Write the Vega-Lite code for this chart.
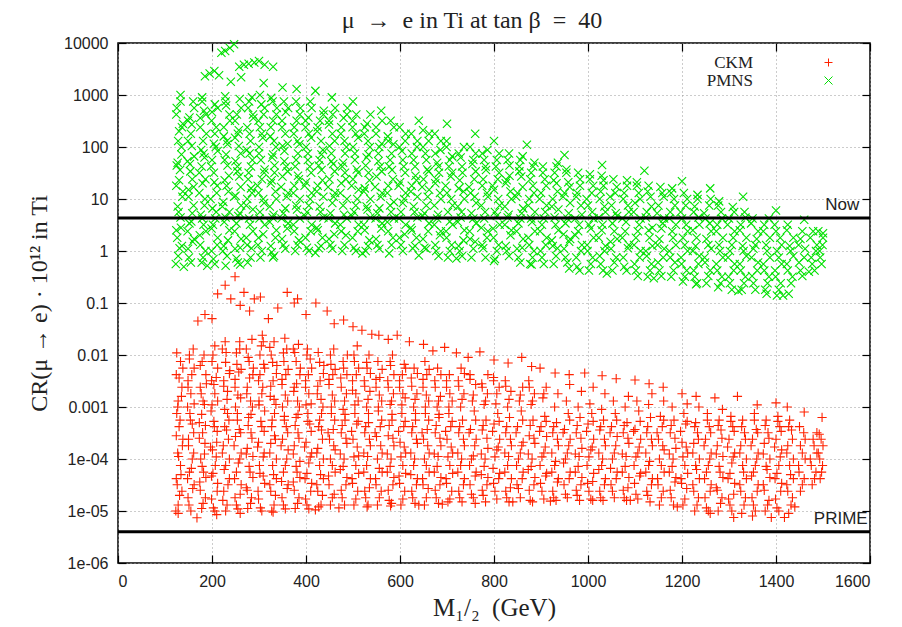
{
"$schema": "https://vega.github.io/schema/vega-lite/v6.json",
"width": 752, "height": 520,
"autosize": {"type": "none"},
"padding": {"left": 118, "top": 43, "right": 32, "bottom": 64},
"background": "white",
"title": {"text": "μ\u2002→\u2002e in Ti at tan β\u2002=\u200240", "font": "Liberation Serif", "fontSize": 24, "fontWeight": "normal", "color": "#222", "offset": 2, "dx": -22},
"datasets": {
"pmns": [
{"x":123,"PMNS":0.56},{"x":131,"PMNS":1.13},{"x":126,"PMNS":1.8},{"x":134,"PMNS":2.8},{"x":129,"PMNS":5.6},{"x":137,"PMNS":11},{"x":124,"PMNS":18},{"x":132,"PMNS":36},{"x":127,"PMNS":50},{"x":135,"PMNS":100},{"x":130,"PMNS":200},{"x":138,"PMNS":280},{"x":125,"PMNS":560},{"x":133,"PMNS":1000},
{"x":151,"PMNS":0.75},{"x":159,"PMNS":1.5},{"x":148,"PMNS":2.4},{"x":156,"PMNS":3.7},{"x":161,"PMNS":7.5},{"x":150,"PMNS":15},{"x":158,"PMNS":24},{"x":153,"PMNS":47},{"x":162,"PMNS":66},{"x":149,"PMNS":130},{"x":157,"PMNS":270},{"x":152,"PMNS":370},{"x":160,"PMNS":750},
{"x":178,"PMNS":0.6},{"x":186,"PMNS":1},{"x":174,"PMNS":2},{"x":182,"PMNS":3.2},{"x":176,"PMNS":5},{"x":185,"PMNS":10},{"x":180,"PMNS":20},{"x":173,"PMNS":32},{"x":184,"PMNS":63},{"x":177,"PMNS":88},{"x":188,"PMNS":180},{"x":175,"PMNS":360},{"x":183,"PMNS":500},{"x":179,"PMNS":900},
{"x":203,"PMNS":0.7},{"x":211,"PMNS":1.3},{"x":199,"PMNS":2.7},{"x":207,"PMNS":4.2},{"x":201,"PMNS":6.6},{"x":210,"PMNS":13},{"x":205,"PMNS":21},{"x":198,"PMNS":42},{"x":212,"PMNS":84},{"x":204,"PMNS":115},{"x":209,"PMNS":240},{"x":200,"PMNS":470},{"x":206,"PMNS":660},
{"x":229,"PMNS":0.52},{"x":223,"PMNS":1},{"x":234,"PMNS":1.6},{"x":226,"PMNS":3.6},{"x":237,"PMNS":5.6},{"x":224,"PMNS":8.8},{"x":231,"PMNS":18},{"x":236,"PMNS":28},{"x":227,"PMNS":56},{"x":233,"PMNS":113},{"x":225,"PMNS":160},{"x":238,"PMNS":320},{"x":230,"PMNS":630},{"x":228,"PMNS":950},
{"x":252,"PMNS":0.72},{"x":260,"PMNS":1.15},{"x":248,"PMNS":2.4},{"x":256,"PMNS":4.7},{"x":262,"PMNS":7.5},{"x":250,"PMNS":11.5},{"x":258,"PMNS":27},{"x":254,"PMNS":42},{"x":261,"PMNS":75},{"x":249,"PMNS":150},{"x":257,"PMNS":210},{"x":253,"PMNS":420},{"x":259,"PMNS":840},
{"x":276,"PMNS":0.6},{"x":284,"PMNS":1.13},{"x":273,"PMNS":1.8},{"x":281,"PMNS":3.2},{"x":287,"PMNS":6.3},{"x":275,"PMNS":10},{"x":283,"PMNS":16},{"x":278,"PMNS":32},{"x":286,"PMNS":56},{"x":274,"PMNS":88},{"x":280,"PMNS":180},{"x":288,"PMNS":360},{"x":277,"PMNS":560},{"x":285,"PMNS":900},
{"x":303,"PMNS":0.75},{"x":298,"PMNS":1.3},{"x":309,"PMNS":2.1},{"x":301,"PMNS":4.2},{"x":311,"PMNS":8.4},{"x":299,"PMNS":13},{"x":306,"PMNS":24},{"x":312,"PMNS":37},{"x":300,"PMNS":75},{"x":308,"PMNS":150},{"x":302,"PMNS":240},{"x":310,"PMNS":420},{"x":305,"PMNS":660},
{"x":327,"PMNS":0.95},{"x":335,"PMNS":1.8},{"x":323,"PMNS":3.6},{"x":331,"PMNS":5},{"x":337,"PMNS":10},{"x":325,"PMNS":20},{"x":333,"PMNS":32},{"x":328,"PMNS":63},{"x":336,"PMNS":100},{"x":324,"PMNS":160},{"x":330,"PMNS":320},{"x":338,"PMNS":560},{"x":326,"PMNS":880},
{"x":352,"PMNS":1.3},{"x":360,"PMNS":2.7},{"x":348,"PMNS":4.2},{"x":356,"PMNS":6.6},{"x":362,"PMNS":13},{"x":350,"PMNS":27},{"x":358,"PMNS":42},{"x":354,"PMNS":84},{"x":361,"PMNS":115},{"x":349,"PMNS":240},{"x":357,"PMNS":470},{"x":353,"PMNS":750},
{"x":377,"PMNS":1},{"x":385,"PMNS":1.6},{"x":373,"PMNS":3.2},{"x":381,"PMNS":6.3},{"x":387,"PMNS":10},{"x":375,"PMNS":18},{"x":383,"PMNS":28},{"x":379,"PMNS":56},{"x":386,"PMNS":113},{"x":374,"PMNS":180},{"x":380,"PMNS":320},{"x":388,"PMNS":560},
{"x":402,"PMNS":1.15},{"x":410,"PMNS":2.4},{"x":398,"PMNS":4.7},{"x":406,"PMNS":7.5},{"x":412,"PMNS":13},{"x":400,"PMNS":21},{"x":408,"PMNS":42},{"x":404,"PMNS":75},{"x":411,"PMNS":150},{"x":399,"PMNS":240},{"x":405,"PMNS":370},{"x":409,"PMNS":750},
{"x":427,"PMNS":1.13},{"x":435,"PMNS":1.8},{"x":423,"PMNS":2.8},{"x":431,"PMNS":5.6},{"x":437,"PMNS":11},{"x":425,"PMNS":18},{"x":433,"PMNS":36},{"x":429,"PMNS":56},{"x":436,"PMNS":88},{"x":424,"PMNS":200},{"x":430,"PMNS":320},{"x":438,"PMNS":500},
{"x":452,"PMNS":1.3},{"x":460,"PMNS":2.1},{"x":448,"PMNS":4.2},{"x":456,"PMNS":8.4},{"x":462,"PMNS":13},{"x":450,"PMNS":24},{"x":458,"PMNS":47},{"x":454,"PMNS":75},{"x":461,"PMNS":130},{"x":449,"PMNS":270},{"x":457,"PMNS":420},
{"x":477,"PMNS":1},{"x":485,"PMNS":2},{"x":473,"PMNS":3.2},{"x":481,"PMNS":5},{"x":487,"PMNS":10},{"x":475,"PMNS":20},{"x":483,"PMNS":32},{"x":479,"PMNS":50},{"x":486,"PMNS":100},{"x":474,"PMNS":180},{"x":480,"PMNS":360},{"x":488,"PMNS":560},
{"x":502,"PMNS":1.15},{"x":510,"PMNS":2.4},{"x":498,"PMNS":4.7},{"x":506,"PMNS":7.5},{"x":512,"PMNS":15},{"x":500,"PMNS":24},{"x":508,"PMNS":37},{"x":504,"PMNS":75},{"x":511,"PMNS":150},{"x":499,"PMNS":240},{"x":507,"PMNS":420},
{"x":527,"PMNS":1},{"x":535,"PMNS":1.6},{"x":523,"PMNS":3.2},{"x":531,"PMNS":6.3},{"x":537,"PMNS":10},{"x":525,"PMNS":16},{"x":533,"PMNS":32},{"x":529,"PMNS":63},{"x":536,"PMNS":100},{"x":524,"PMNS":180},{"x":530,"PMNS":280},
{"x":552,"PMNS":1.3},{"x":560,"PMNS":2.7},{"x":548,"PMNS":4.2},{"x":556,"PMNS":6.6},{"x":562,"PMNS":13},{"x":550,"PMNS":27},{"x":558,"PMNS":42},{"x":554,"PMNS":75},{"x":561,"PMNS":115},{"x":549,"PMNS":240},
{"x":577,"PMNS":0.9},{"x":585,"PMNS":1.8},{"x":573,"PMNS":3.6},{"x":581,"PMNS":5.6},{"x":587,"PMNS":8.8},{"x":575,"PMNS":18},{"x":583,"PMNS":36},{"x":579,"PMNS":56},{"x":586,"PMNS":113},{"x":574,"PMNS":160},{"x":580,"PMNS":320},
{"x":602,"PMNS":1.3},{"x":610,"PMNS":2.1},{"x":598,"PMNS":4.2},{"x":606,"PMNS":8.4},{"x":612,"PMNS":13},{"x":600,"PMNS":21},{"x":608,"PMNS":42},{"x":604,"PMNS":84},{"x":611,"PMNS":130},{"x":599,"PMNS":240},
{"x":627,"PMNS":1.13},{"x":635,"PMNS":1.8},{"x":623,"PMNS":2.8},{"x":631,"PMNS":5.6},{"x":637,"PMNS":11},{"x":625,"PMNS":18},{"x":633,"PMNS":28},{"x":629,"PMNS":56},{"x":636,"PMNS":100},{"x":624,"PMNS":180},
{"x":652,"PMNS":1.15},{"x":660,"PMNS":2.4},{"x":648,"PMNS":4.7},{"x":656,"PMNS":7.5},{"x":662,"PMNS":15},{"x":650,"PMNS":24},{"x":658,"PMNS":37},{"x":654,"PMNS":75},{"x":661,"PMNS":130},{"x":649,"PMNS":210},
{"x":677,"PMNS":1},{"x":685,"PMNS":2},{"x":673,"PMNS":3.2},{"x":681,"PMNS":5},{"x":687,"PMNS":10},{"x":675,"PMNS":20},{"x":683,"PMNS":32},{"x":679,"PMNS":50},{"x":686,"PMNS":88},{"x":674,"PMNS":180},
{"x":702,"PMNS":0.75},{"x":710,"PMNS":1.3},{"x":698,"PMNS":2.4},{"x":706,"PMNS":3.7},{"x":712,"PMNS":7.5},{"x":700,"PMNS":13},{"x":708,"PMNS":27},{"x":704,"PMNS":42},{"x":711,"PMNS":66},{"x":699,"PMNS":130},
{"x":727,"PMNS":1},{"x":735,"PMNS":1.6},{"x":723,"PMNS":3.6},{"x":731,"PMNS":5.6},{"x":737,"PMNS":10},{"x":725,"PMNS":16},{"x":733,"PMNS":32},{"x":729,"PMNS":63},{"x":736,"PMNS":100},
{"x":752,"PMNS":0.75},{"x":760,"PMNS":1.5},{"x":748,"PMNS":2.4},{"x":756,"PMNS":4.2},{"x":762,"PMNS":8.4},{"x":750,"PMNS":13},{"x":758,"PMNS":24},{"x":754,"PMNS":47},{"x":761,"PMNS":75},
{"x":777,"PMNS":1.13},{"x":785,"PMNS":1.8},{"x":773,"PMNS":2.8},{"x":781,"PMNS":5.6},{"x":787,"PMNS":11},{"x":775,"PMNS":18},{"x":783,"PMNS":36},{"x":779,"PMNS":56},{"x":786,"PMNS":88},
{"x":802,"PMNS":0.7},{"x":810,"PMNS":1.3},{"x":798,"PMNS":2.7},{"x":806,"PMNS":4.7},{"x":812,"PMNS":7.5},{"x":800,"PMNS":15},{"x":808,"PMNS":24},{"x":804,"PMNS":42},{"x":811,"PMNS":75},
{"x":827,"PMNS":1},{"x":835,"PMNS":2},{"x":823,"PMNS":3.2},{"x":831,"PMNS":5},{"x":837,"PMNS":10},{"x":825,"PMNS":20},{"x":833,"PMNS":28},{"x":829,"PMNS":56},
{"x":852,"PMNS":0.75},{"x":860,"PMNS":1.15},{"x":848,"PMNS":2.4},{"x":856,"PMNS":4.2},{"x":862,"PMNS":6.6},{"x":850,"PMNS":13},{"x":858,"PMNS":27},{"x":854,"PMNS":42},{"x":861,"PMNS":66},
{"x":877,"PMNS":0.56},{"x":885,"PMNS":1},{"x":873,"PMNS":1.8},{"x":881,"PMNS":3.6},{"x":887,"PMNS":5.6},{"x":875,"PMNS":10},{"x":883,"PMNS":18},{"x":879,"PMNS":32},{"x":886,"PMNS":50},
{"x":902,"PMNS":0.75},{"x":910,"PMNS":1.3},{"x":898,"PMNS":2.4},{"x":906,"PMNS":4.2},{"x":912,"PMNS":7.5},{"x":900,"PMNS":13},{"x":908,"PMNS":24},{"x":904,"PMNS":42},
{"x":927,"PMNS":0.56},{"x":935,"PMNS":1.13},{"x":923,"PMNS":1.6},{"x":931,"PMNS":3.2},{"x":937,"PMNS":6.3},{"x":925,"PMNS":10},{"x":933,"PMNS":20},{"x":929,"PMNS":32},{"x":936,"PMNS":50},
{"x":952,"PMNS":0.75},{"x":960,"PMNS":1.5},{"x":948,"PMNS":2.1},{"x":956,"PMNS":4.2},{"x":962,"PMNS":8.4},{"x":950,"PMNS":13},{"x":958,"PMNS":21},{"x":954,"PMNS":37},
{"x":977,"PMNS":0.5},{"x":985,"PMNS":1},{"x":973,"PMNS":2},{"x":981,"PMNS":3.2},{"x":987,"PMNS":5},{"x":975,"PMNS":11},{"x":983,"PMNS":18},{"x":979,"PMNS":32},
{"x":1002,"PMNS":0.42},{"x":1010,"PMNS":0.75},{"x":998,"PMNS":1.3},{"x":1006,"PMNS":2.7},{"x":1012,"PMNS":4.2},{"x":1000,"PMNS":7.5},{"x":1008,"PMNS":13},{"x":1004,"PMNS":24},
{"x":1027,"PMNS":0.56},{"x":1035,"PMNS":1},{"x":1023,"PMNS":1.8},{"x":1031,"PMNS":3.2},{"x":1037,"PMNS":5.6},{"x":1025,"PMNS":10},{"x":1033,"PMNS":18},{"x":1029,"PMNS":28},
{"x":1052,"PMNS":0.42},{"x":1060,"PMNS":0.75},{"x":1048,"PMNS":1.5},{"x":1056,"PMNS":2.4},{"x":1062,"PMNS":4.7},{"x":1050,"PMNS":7.5},{"x":1058,"PMNS":13},{"x":1054,"PMNS":24},
{"x":1077,"PMNS":0.5},{"x":1085,"PMNS":1.13},{"x":1073,"PMNS":1.8},{"x":1081,"PMNS":3.6},{"x":1087,"PMNS":5.6},{"x":1075,"PMNS":10},{"x":1083,"PMNS":18},
{"x":1102,"PMNS":0.42},{"x":1110,"PMNS":0.75},{"x":1098,"PMNS":1.3},{"x":1106,"PMNS":2.4},{"x":1112,"PMNS":4.2},{"x":1100,"PMNS":8.4},{"x":1108,"PMNS":13},{"x":1104,"PMNS":21},
{"x":1127,"PMNS":0.32},{"x":1135,"PMNS":0.56},{"x":1123,"PMNS":1},{"x":1131,"PMNS":1.8},{"x":1137,"PMNS":2.8},{"x":1125,"PMNS":5.6},{"x":1133,"PMNS":11},{"x":1129,"PMNS":18},
{"x":1152,"PMNS":0.42},{"x":1160,"PMNS":0.75},{"x":1148,"PMNS":1.3},{"x":1156,"PMNS":2.7},{"x":1162,"PMNS":4.2},{"x":1150,"PMNS":7.5},{"x":1158,"PMNS":13},
{"x":1177,"PMNS":0.32},{"x":1185,"PMNS":0.6},{"x":1173,"PMNS":1},{"x":1181,"PMNS":1.8},{"x":1187,"PMNS":3.2},{"x":1175,"PMNS":5.6},{"x":1183,"PMNS":10},{"x":1179,"PMNS":16},
{"x":1202,"PMNS":0.26},{"x":1210,"PMNS":0.42},{"x":1198,"PMNS":0.75},{"x":1206,"PMNS":1.3},{"x":1212,"PMNS":2.4},{"x":1200,"PMNS":4.2},{"x":1208,"PMNS":7.5},{"x":1204,"PMNS":13},
{"x":1227,"PMNS":0.32},{"x":1235,"PMNS":0.56},{"x":1223,"PMNS":1},{"x":1231,"PMNS":1.8},{"x":1237,"PMNS":3.2},{"x":1225,"PMNS":5.6},{"x":1233,"PMNS":10},
{"x":1252,"PMNS":0.24},{"x":1260,"PMNS":0.42},{"x":1248,"PMNS":0.75},{"x":1256,"PMNS":1.3},{"x":1262,"PMNS":2.4},{"x":1250,"PMNS":4.2},{"x":1258,"PMNS":7.5},
{"x":1277,"PMNS":0.2},{"x":1285,"PMNS":0.32},{"x":1273,"PMNS":0.56},{"x":1281,"PMNS":1},{"x":1287,"PMNS":1.8},{"x":1275,"PMNS":3.2},{"x":1283,"PMNS":5.6},{"x":1279,"PMNS":9},
{"x":1302,"PMNS":0.24},{"x":1310,"PMNS":0.42},{"x":1298,"PMNS":0.75},{"x":1306,"PMNS":1.3},{"x":1312,"PMNS":2.4},{"x":1300,"PMNS":4.2},{"x":1308,"PMNS":7},
{"x":1327,"PMNS":0.18},{"x":1335,"PMNS":0.32},{"x":1323,"PMNS":0.56},{"x":1331,"PMNS":1},{"x":1337,"PMNS":1.8},{"x":1325,"PMNS":3.2},{"x":1333,"PMNS":5.6},
{"x":1352,"PMNS":0.24},{"x":1360,"PMNS":0.42},{"x":1348,"PMNS":0.75},{"x":1356,"PMNS":1.3},{"x":1362,"PMNS":2.4},{"x":1350,"PMNS":4.2},
{"x":1377,"PMNS":0.18},{"x":1385,"PMNS":0.32},{"x":1373,"PMNS":0.56},{"x":1381,"PMNS":1},{"x":1387,"PMNS":1.8},{"x":1375,"PMNS":3.2},
{"x":1402,"PMNS":0.14},{"x":1410,"PMNS":0.24},{"x":1398,"PMNS":0.42},{"x":1406,"PMNS":0.75},{"x":1412,"PMNS":1.3},{"x":1400,"PMNS":2.4},
{"x":1427,"PMNS":0.15},{"x":1435,"PMNS":0.32},{"x":1423,"PMNS":0.56},{"x":1431,"PMNS":1},{"x":1437,"PMNS":1.8},{"x":1425,"PMNS":3.2},
{"x":1452,"PMNS":0.42},{"x":1460,"PMNS":0.75},{"x":1448,"PMNS":1.3},{"x":1456,"PMNS":2.4},
{"x":1477,"PMNS":0.56},{"x":1485,"PMNS":1},{"x":1473,"PMNS":1.8},
{"x":1494,"PMNS":0.75},{"x":1499,"PMNS":1.3},{"x":1490,"PMNS":2.4},
{"x":185,"PMNS":2300},{"x":195,"PMNS":2600},{"x":205,"PMNS":2900},{"x":215,"PMNS":2400},{"x":228,"PMNS":7000},{"x":238,"PMNS":8000},{"x":247,"PMNS":9500},{"x":220,"PMNS":6500},{"x":258,"PMNS":3500},{"x":268,"PMNS":3800},{"x":278,"PMNS":4000},{"x":290,"PMNS":4200},{"x":300,"PMNS":4500},{"x":312,"PMNS":3800},{"x":330,"PMNS":3500},{"x":262,"PMNS":2200},{"x":240,"PMNS":1800},{"x":310,"PMNS":1700},{"x":350,"PMNS":1400},{"x":380,"PMNS":1300},{"x":420,"PMNS":1200},{"x":455,"PMNS":900},{"x":500,"PMNS":750},{"x":560,"PMNS":500},{"x":640,"PMNS":320},{"x":700,"PMNS":280},{"x":760,"PMNS":180},{"x":800,"PMNS":130},{"x":870,"PMNS":110},{"x":950,"PMNS":70},{"x":1030,"PMNS":45},{"x":1120,"PMNS":35},{"x":1200,"PMNS":22},{"x":1260,"PMNS":16},{"x":1330,"PMNS":11},{"x":1400,"PMNS":6},{"x":1460,"PMNS":4},{"x":1500,"PMNS":2.2},
{"x":140,"PMNS":0.5},{"x":190,"PMNS":0.52},{"x":260,"PMNS":0.55},{"x":330,"PMNS":0.75},{"x":420,"PMNS":0.92},{"x":520,"PMNS":0.9},{"x":640,"PMNS":0.82},{"x":720,"PMNS":0.72},{"x":800,"PMNS":0.64},{"x":880,"PMNS":0.55},{"x":960,"PMNS":0.46},{"x":1040,"PMNS":0.37},{"x":1140,"PMNS":0.3},{"x":1230,"PMNS":0.23},{"x":1320,"PMNS":0.17},{"x":1380,"PMNS":0.15},{"x":1415,"PMNS":0.14},{"x":1470,"PMNS":0.4},
{"x":128,"PMNS":0.8},{"x":136,"PMNS":1.25},{"x":124,"PMNS":2.5},{"x":133,"PMNS":4.4},{"x":127,"PMNS":7.2},{"x":138,"PMNS":14},{"x":130,"PMNS":23},{"x":125,"PMNS":44},{"x":135,"PMNS":72},
{"x":155,"PMNS":0.6},{"x":149,"PMNS":1.1},{"x":162,"PMNS":1.7},{"x":152,"PMNS":3.4},{"x":158,"PMNS":5.3},{"x":150,"PMNS":11},{"x":161,"PMNS":17},{"x":154,"PMNS":34},{"x":148,"PMNS":53},{"x":157,"PMNS":105},
{"x":181,"PMNS":0.75},{"x":175,"PMNS":1.3},{"x":187,"PMNS":2.4},{"x":179,"PMNS":4.2},{"x":184,"PMNS":7.5},{"x":173,"PMNS":13},{"x":186,"PMNS":24},{"x":178,"PMNS":42},{"x":182,"PMNS":75},
{"x":206,"PMNS":0.56},{"x":199,"PMNS":1},{"x":212,"PMNS":1.8},{"x":202,"PMNS":3.2},{"x":209,"PMNS":5.6},{"x":197,"PMNS":10},{"x":211,"PMNS":18},{"x":204,"PMNS":32},{"x":200,"PMNS":56},{"x":208,"PMNS":100},
{"x":232,"PMNS":0.8},{"x":225,"PMNS":1.25},{"x":237,"PMNS":2.5},{"x":229,"PMNS":4.4},{"x":222,"PMNS":7.2},{"x":235,"PMNS":14},{"x":227,"PMNS":23},{"x":233,"PMNS":44},{"x":230,"PMNS":72},
{"x":255,"PMNS":0.6},{"x":249,"PMNS":1.1},{"x":262,"PMNS":1.7},{"x":252,"PMNS":3.4},{"x":259,"PMNS":5.3},{"x":247,"PMNS":11},{"x":261,"PMNS":17},{"x":254,"PMNS":34},{"x":250,"PMNS":53},{"x":257,"PMNS":105},
{"x":282,"PMNS":0.75},{"x":275,"PMNS":1.3},{"x":287,"PMNS":2.4},{"x":279,"PMNS":4.2},{"x":273,"PMNS":7.5},{"x":285,"PMNS":13},{"x":277,"PMNS":24},{"x":283,"PMNS":42},{"x":280,"PMNS":75},
{"x":306,"PMNS":1},{"x":299,"PMNS":1.8},{"x":312,"PMNS":3.2},{"x":302,"PMNS":5.6},{"x":309,"PMNS":10},{"x":297,"PMNS":18},{"x":311,"PMNS":32},{"x":304,"PMNS":56},{"x":300,"PMNS":100},
{"x":332,"PMNS":0.8},{"x":325,"PMNS":1.25},{"x":337,"PMNS":2.5},{"x":329,"PMNS":4.4},{"x":323,"PMNS":7.2},{"x":335,"PMNS":14},{"x":327,"PMNS":23},{"x":333,"PMNS":44},{"x":330,"PMNS":72},
{"x":356,"PMNS":1.1},{"x":349,"PMNS":1.7},{"x":362,"PMNS":3.4},{"x":352,"PMNS":5.3},{"x":359,"PMNS":11},{"x":347,"PMNS":17},{"x":361,"PMNS":34},{"x":354,"PMNS":53},{"x":350,"PMNS":105},
{"x":382,"PMNS":1.3},{"x":375,"PMNS":2.4},{"x":387,"PMNS":4.2},{"x":379,"PMNS":7.5},{"x":373,"PMNS":13},{"x":385,"PMNS":24},{"x":377,"PMNS":42},{"x":383,"PMNS":75},
{"x":406,"PMNS":1},{"x":399,"PMNS":1.8},{"x":412,"PMNS":3.2},{"x":402,"PMNS":5.6},{"x":409,"PMNS":10},{"x":397,"PMNS":18},{"x":411,"PMNS":32},{"x":404,"PMNS":56},{"x":400,"PMNS":100},
{"x":432,"PMNS":1.25},{"x":425,"PMNS":2.5},{"x":437,"PMNS":4.4},{"x":429,"PMNS":7.2},{"x":423,"PMNS":14},{"x":435,"PMNS":23},{"x":427,"PMNS":44},{"x":433,"PMNS":72},
{"x":456,"PMNS":1.1},{"x":449,"PMNS":1.7},{"x":462,"PMNS":3.4},{"x":452,"PMNS":5.3},{"x":459,"PMNS":11},{"x":447,"PMNS":17},{"x":461,"PMNS":34},{"x":454,"PMNS":53},{"x":450,"PMNS":105},
{"x":482,"PMNS":1.3},{"x":475,"PMNS":2.4},{"x":487,"PMNS":4.2},{"x":479,"PMNS":7.5},{"x":473,"PMNS":13},{"x":485,"PMNS":24},{"x":477,"PMNS":42},{"x":483,"PMNS":75},
{"x":506,"PMNS":1},{"x":499,"PMNS":1.8},{"x":512,"PMNS":3.2},{"x":502,"PMNS":5.6},{"x":509,"PMNS":10},{"x":497,"PMNS":18},{"x":511,"PMNS":32},{"x":504,"PMNS":56},{"x":500,"PMNS":100},
{"x":532,"PMNS":1.25},{"x":525,"PMNS":2.5},{"x":537,"PMNS":4.4},{"x":529,"PMNS":7.2},{"x":523,"PMNS":14},{"x":535,"PMNS":23},{"x":527,"PMNS":44},{"x":533,"PMNS":72},
{"x":556,"PMNS":1.1},{"x":549,"PMNS":1.7},{"x":562,"PMNS":3.4},{"x":552,"PMNS":5.3},{"x":559,"PMNS":11},{"x":547,"PMNS":17},{"x":561,"PMNS":34},{"x":554,"PMNS":53},
{"x":582,"PMNS":1.3},{"x":575,"PMNS":2.4},{"x":587,"PMNS":4.2},{"x":579,"PMNS":7.5},{"x":573,"PMNS":13},{"x":585,"PMNS":24},{"x":577,"PMNS":42},
{"x":606,"PMNS":1},{"x":599,"PMNS":1.8},{"x":612,"PMNS":3.2},{"x":602,"PMNS":5.6},{"x":609,"PMNS":10},{"x":597,"PMNS":18},{"x":611,"PMNS":32},
{"x":632,"PMNS":1.25},{"x":625,"PMNS":2.5},{"x":637,"PMNS":4.4},{"x":629,"PMNS":7.2},{"x":623,"PMNS":14},{"x":635,"PMNS":23},
{"x":656,"PMNS":1.1},{"x":649,"PMNS":1.7},{"x":662,"PMNS":3.4},{"x":652,"PMNS":5.3},{"x":659,"PMNS":11},{"x":647,"PMNS":17},{"x":661,"PMNS":34},
{"x":682,"PMNS":0.8},{"x":675,"PMNS":1.3},{"x":687,"PMNS":2.4},{"x":679,"PMNS":4.2},{"x":673,"PMNS":7.5},{"x":685,"PMNS":13},{"x":677,"PMNS":24},
{"x":706,"PMNS":1},{"x":699,"PMNS":1.8},{"x":712,"PMNS":3.2},{"x":702,"PMNS":5.6},{"x":709,"PMNS":10},{"x":697,"PMNS":18},{"x":711,"PMNS":32},
{"x":732,"PMNS":0.8},{"x":725,"PMNS":1.25},{"x":737,"PMNS":2.5},{"x":729,"PMNS":4.4},{"x":723,"PMNS":7.2},{"x":735,"PMNS":14},{"x":727,"PMNS":23},
{"x":756,"PMNS":1.1},{"x":749,"PMNS":1.7},{"x":762,"PMNS":3.4},{"x":752,"PMNS":5.3},{"x":759,"PMNS":11},{"x":747,"PMNS":17},{"x":761,"PMNS":34},
{"x":782,"PMNS":0.75},{"x":775,"PMNS":1.3},{"x":787,"PMNS":2.4},{"x":779,"PMNS":4.2},{"x":773,"PMNS":7.5},{"x":785,"PMNS":13},{"x":777,"PMNS":24},
{"x":806,"PMNS":1},{"x":799,"PMNS":1.8},{"x":812,"PMNS":3.2},{"x":802,"PMNS":5.6},{"x":809,"PMNS":10},{"x":797,"PMNS":18},{"x":811,"PMNS":32},
{"x":832,"PMNS":0.8},{"x":825,"PMNS":1.25},{"x":837,"PMNS":2.5},{"x":829,"PMNS":4.4},{"x":823,"PMNS":7.2},{"x":835,"PMNS":14},{"x":827,"PMNS":23},{"x":833,"PMNS":44},
{"x":856,"PMNS":0.6},{"x":849,"PMNS":1.1},{"x":862,"PMNS":1.7},{"x":852,"PMNS":3.4},{"x":859,"PMNS":5.3},{"x":847,"PMNS":11},{"x":861,"PMNS":17},{"x":854,"PMNS":34},
{"x":882,"PMNS":0.75},{"x":875,"PMNS":1.3},{"x":887,"PMNS":2.4},{"x":879,"PMNS":4.2},{"x":873,"PMNS":7.5},{"x":885,"PMNS":13},{"x":877,"PMNS":24},{"x":883,"PMNS":42},
{"x":906,"PMNS":0.56},{"x":899,"PMNS":1},{"x":912,"PMNS":1.8},{"x":902,"PMNS":3.2},{"x":909,"PMNS":5.6},{"x":897,"PMNS":10},{"x":911,"PMNS":18},{"x":904,"PMNS":32},
{"x":932,"PMNS":0.8},{"x":925,"PMNS":1.25},{"x":937,"PMNS":2.5},{"x":929,"PMNS":4.4},{"x":923,"PMNS":7.2},{"x":935,"PMNS":14},{"x":927,"PMNS":23},{"x":933,"PMNS":42},
{"x":956,"PMNS":0.6},{"x":949,"PMNS":1.1},{"x":962,"PMNS":1.7},{"x":952,"PMNS":3.4},{"x":959,"PMNS":5.3},{"x":947,"PMNS":11},{"x":961,"PMNS":17},{"x":954,"PMNS":32},
{"x":982,"PMNS":0.42},{"x":975,"PMNS":0.75},{"x":987,"PMNS":1.3},{"x":979,"PMNS":2.4},{"x":973,"PMNS":4.2},{"x":985,"PMNS":7.5},{"x":977,"PMNS":13},{"x":983,"PMNS":24},
{"x":1006,"PMNS":0.56},{"x":999,"PMNS":1},{"x":1012,"PMNS":1.8},{"x":1002,"PMNS":3.2},{"x":1009,"PMNS":5.6},{"x":997,"PMNS":10},{"x":1011,"PMNS":18},{"x":1004,"PMNS":30},
{"x":1032,"PMNS":0.42},{"x":1025,"PMNS":0.8},{"x":1037,"PMNS":1.25},{"x":1029,"PMNS":2.5},{"x":1023,"PMNS":4.4},{"x":1035,"PMNS":7.2},{"x":1027,"PMNS":14},{"x":1033,"PMNS":23},
{"x":1056,"PMNS":0.6},{"x":1049,"PMNS":1.1},{"x":1062,"PMNS":1.7},{"x":1052,"PMNS":3.4},{"x":1059,"PMNS":5.3},{"x":1047,"PMNS":11},{"x":1061,"PMNS":17},
{"x":1082,"PMNS":0.42},{"x":1075,"PMNS":0.75},{"x":1087,"PMNS":1.3},{"x":1079,"PMNS":2.4},{"x":1073,"PMNS":4.2},{"x":1085,"PMNS":7.5},{"x":1077,"PMNS":13},{"x":1083,"PMNS":23},
{"x":1106,"PMNS":0.33},{"x":1099,"PMNS":0.56},{"x":1112,"PMNS":1},{"x":1102,"PMNS":1.8},{"x":1109,"PMNS":3.2},{"x":1097,"PMNS":5.6},{"x":1111,"PMNS":10},{"x":1104,"PMNS":18},
{"x":1132,"PMNS":0.42},{"x":1125,"PMNS":0.8},{"x":1137,"PMNS":1.25},{"x":1129,"PMNS":2.5},{"x":1123,"PMNS":4.4},{"x":1135,"PMNS":7.2},{"x":1127,"PMNS":14},
{"x":1156,"PMNS":0.33},{"x":1149,"PMNS":0.6},{"x":1162,"PMNS":1.1},{"x":1152,"PMNS":1.7},{"x":1159,"PMNS":3.4},{"x":1147,"PMNS":5.3},{"x":1161,"PMNS":11},{"x":1154,"PMNS":17},
{"x":1182,"PMNS":0.42},{"x":1175,"PMNS":0.75},{"x":1187,"PMNS":1.3},{"x":1179,"PMNS":2.4},{"x":1173,"PMNS":4.2},{"x":1185,"PMNS":7.5},{"x":1177,"PMNS":13},
{"x":1206,"PMNS":0.32},{"x":1199,"PMNS":0.56},{"x":1212,"PMNS":1},{"x":1202,"PMNS":1.8},{"x":1209,"PMNS":3.2},{"x":1197,"PMNS":5.6},{"x":1211,"PMNS":10},
{"x":1232,"PMNS":0.24},{"x":1225,"PMNS":0.42},{"x":1237,"PMNS":0.8},{"x":1229,"PMNS":1.25},{"x":1223,"PMNS":2.5},{"x":1235,"PMNS":4.4},{"x":1227,"PMNS":7.2},{"x":1233,"PMNS":12},
{"x":1256,"PMNS":0.33},{"x":1249,"PMNS":0.6},{"x":1262,"PMNS":1.1},{"x":1252,"PMNS":1.7},{"x":1259,"PMNS":3.4},{"x":1247,"PMNS":5.3},{"x":1261,"PMNS":10},
{"x":1282,"PMNS":0.24},{"x":1275,"PMNS":0.42},{"x":1287,"PMNS":0.75},{"x":1279,"PMNS":1.3},{"x":1273,"PMNS":2.4},{"x":1285,"PMNS":4.2},{"x":1277,"PMNS":7.5},
{"x":1306,"PMNS":0.18},{"x":1299,"PMNS":0.32},{"x":1312,"PMNS":0.56},{"x":1302,"PMNS":1},{"x":1309,"PMNS":1.8},{"x":1297,"PMNS":3.2},{"x":1311,"PMNS":5.6},
{"x":1332,"PMNS":0.24},{"x":1325,"PMNS":0.42},{"x":1337,"PMNS":0.8},{"x":1329,"PMNS":1.25},{"x":1323,"PMNS":2.5},{"x":1335,"PMNS":4.4},
{"x":1356,"PMNS":0.18},{"x":1349,"PMNS":0.33},{"x":1362,"PMNS":0.6},{"x":1352,"PMNS":1.1},{"x":1359,"PMNS":1.7},{"x":1347,"PMNS":3.4},
{"x":1382,"PMNS":0.24},{"x":1375,"PMNS":0.42},{"x":1387,"PMNS":0.75},{"x":1379,"PMNS":1.3},{"x":1373,"PMNS":2.4},{"x":1385,"PMNS":4.2},
{"x":1406,"PMNS":0.18},{"x":1399,"PMNS":0.32},{"x":1412,"PMNS":0.56},{"x":1402,"PMNS":1},{"x":1409,"PMNS":1.8},{"x":1397,"PMNS":3.2},
{"x":1432,"PMNS":0.24},{"x":1425,"PMNS":0.42},{"x":1437,"PMNS":0.8},{"x":1429,"PMNS":1.25},{"x":1423,"PMNS":2.5},
{"x":1456,"PMNS":0.33},{"x":1449,"PMNS":0.6},{"x":1462,"PMNS":1.1},{"x":1452,"PMNS":1.7},
{"x":1482,"PMNS":0.42},{"x":1475,"PMNS":0.75},{"x":1487,"PMNS":1.3},{"x":1479,"PMNS":2.4},
{"x":1497,"PMNS":0.56},{"x":1493,"PMNS":1},{"x":1500,"PMNS":1.8},
{"x":128,"PMNS":130},{"x":136,"PMNS":240},{"x":124,"PMNS":420},{"x":133,"PMNS":750},
{"x":155,"PMNS":180},{"x":149,"PMNS":320},{"x":162,"PMNS":560},
{"x":181,"PMNS":130},{"x":175,"PMNS":240},{"x":187,"PMNS":420},{"x":179,"PMNS":750},
{"x":206,"PMNS":180},{"x":199,"PMNS":320},{"x":212,"PMNS":560},
{"x":232,"PMNS":130},{"x":225,"PMNS":240},{"x":237,"PMNS":420},{"x":229,"PMNS":750},
{"x":255,"PMNS":180},{"x":249,"PMNS":320},{"x":262,"PMNS":560},
{"x":282,"PMNS":130},{"x":275,"PMNS":240},{"x":287,"PMNS":420},{"x":279,"PMNS":750},
{"x":306,"PMNS":180},{"x":299,"PMNS":320},{"x":312,"PMNS":560},{"x":302,"PMNS":1000},
{"x":332,"PMNS":130},{"x":325,"PMNS":240},{"x":337,"PMNS":420},{"x":329,"PMNS":750},
{"x":356,"PMNS":180},{"x":349,"PMNS":320},{"x":362,"PMNS":560},
{"x":382,"PMNS":130},{"x":375,"PMNS":240},{"x":387,"PMNS":420},{"x":379,"PMNS":750},
{"x":406,"PMNS":180},{"x":399,"PMNS":320},{"x":412,"PMNS":560},
{"x":432,"PMNS":130},{"x":425,"PMNS":240},{"x":437,"PMNS":420},
{"x":456,"PMNS":180},{"x":449,"PMNS":320},{"x":462,"PMNS":560},
{"x":482,"PMNS":130},{"x":475,"PMNS":240},{"x":487,"PMNS":420},
{"x":506,"PMNS":180},{"x":499,"PMNS":320},
{"x":532,"PMNS":130},{"x":525,"PMNS":240},{"x":537,"PMNS":420},
{"x":556,"PMNS":100},{"x":549,"PMNS":180},{"x":562,"PMNS":320},
{"x":582,"PMNS":75},{"x":575,"PMNS":130},{"x":587,"PMNS":240},
{"x":606,"PMNS":56},{"x":599,"PMNS":100},{"x":612,"PMNS":180},
{"x":632,"PMNS":42},{"x":625,"PMNS":75},{"x":637,"PMNS":130},
{"x":656,"PMNS":56},{"x":649,"PMNS":100},{"x":662,"PMNS":180},
{"x":682,"PMNS":42},{"x":675,"PMNS":75},{"x":687,"PMNS":130},
{"x":706,"PMNS":56},{"x":699,"PMNS":100},
{"x":732,"PMNS":42},{"x":725,"PMNS":75},
{"x":756,"PMNS":56},{"x":749,"PMNS":100},
{"x":782,"PMNS":42},{"x":775,"PMNS":75},
{"x":806,"PMNS":56},{"x":832,"PMNS":75},{"x":856,"PMNS":56}
],
"ckm": [
{"x":123,"CKM":1e-5},{"x":131,"CKM":2e-5},{"x":126,"CKM":3.2e-5},{"x":134,"CKM":5e-5},{"x":129,"CKM":1.12e-4},{"x":137,"CKM":1.8e-4},{"x":124,"CKM":2.8e-4},{"x":132,"CKM":5.6e-4},{"x":127,"CKM":1e-3},{"x":135,"CKM":1.6e-3},{"x":130,"CKM":3.6e-3},{"x":138,"CKM":5.6e-3},{"x":125,"CKM":0.011},
{"x":151,"CKM":1.3e-5},{"x":159,"CKM":2.7e-5},{"x":148,"CKM":4.2e-5},{"x":156,"CKM":6.6e-5},{"x":161,"CKM":1.3e-4},{"x":150,"CKM":2.4e-4},{"x":158,"CKM":4.7e-4},{"x":153,"CKM":7.5e-4},{"x":162,"CKM":1.15e-3},{"x":149,"CKM":2.4e-3},{"x":157,"CKM":4.2e-3},{"x":152,"CKM":8.4e-3},{"x":160,"CKM":0.013},
{"x":178,"CKM":1.12e-5},{"x":186,"CKM":1.8e-5},{"x":174,"CKM":3.6e-5},{"x":182,"CKM":5.6e-5},{"x":176,"CKM":1e-4},{"x":185,"CKM":2e-4},{"x":180,"CKM":3.2e-4},{"x":173,"CKM":5e-4},{"x":184,"CKM":1.12e-3},{"x":177,"CKM":1.8e-3},{"x":188,"CKM":2.8e-3},{"x":175,"CKM":6.3e-3},{"x":183,"CKM":0.01},
{"x":203,"CKM":1.15e-5},{"x":211,"CKM":2.4e-5},{"x":199,"CKM":4.7e-5},{"x":207,"CKM":7.5e-5},{"x":201,"CKM":1.5e-4},{"x":210,"CKM":2.1e-4},{"x":205,"CKM":4.2e-4},{"x":198,"CKM":8.4e-4},{"x":212,"CKM":1.3e-3},{"x":204,"CKM":2.7e-3},{"x":209,"CKM":3.7e-3},{"x":200,"CKM":7.5e-3},{"x":206,"CKM":0.015},
{"x":229,"CKM":1e-5},{"x":223,"CKM":1.6e-5},{"x":234,"CKM":3.2e-5},{"x":226,"CKM":6.3e-5},{"x":237,"CKM":1e-4},{"x":224,"CKM":1.8e-4},{"x":231,"CKM":3.6e-4},{"x":236,"CKM":5.6e-4},{"x":227,"CKM":9e-4},{"x":233,"CKM":2e-3},{"x":225,"CKM":3.2e-3},{"x":238,"CKM":5e-3},{"x":230,"CKM":0.0112},{"x":228,"CKM":0.018},
{"x":252,"CKM":1.3e-5},{"x":260,"CKM":2.1e-5},{"x":248,"CKM":4.2e-5},{"x":256,"CKM":8.4e-5},{"x":262,"CKM":1.3e-4},{"x":250,"CKM":2.7e-4},{"x":258,"CKM":3.7e-4},{"x":254,"CKM":7.5e-4},{"x":261,"CKM":1.5e-3},{"x":249,"CKM":2.4e-3},{"x":257,"CKM":4.7e-3},{"x":253,"CKM":6.6e-3},{"x":259,"CKM":0.013},
{"x":276,"CKM":1.12e-5},{"x":284,"CKM":1.8e-5},{"x":273,"CKM":2.8e-5},{"x":281,"CKM":5.6e-5},{"x":287,"CKM":1.12e-4},{"x":275,"CKM":1.6e-4},{"x":283,"CKM":3.2e-4},{"x":278,"CKM":6.3e-4},{"x":286,"CKM":1e-3},{"x":274,"CKM":1.8e-3},{"x":280,"CKM":3.6e-3},{"x":288,"CKM":5.6e-3},{"x":277,"CKM":0.009},{"x":285,"CKM":0.02},
{"x":303,"CKM":1.15e-5},{"x":298,"CKM":2.4e-5},{"x":309,"CKM":4.7e-5},{"x":301,"CKM":7.5e-5},{"x":311,"CKM":1.3e-4},{"x":299,"CKM":2.1e-4},{"x":306,"CKM":4.2e-4},{"x":312,"CKM":8.4e-4},{"x":300,"CKM":1.3e-3},{"x":308,"CKM":2.4e-3},{"x":302,"CKM":4.2e-3},{"x":310,"CKM":6.6e-3},{"x":305,"CKM":0.015},{"x":307,"CKM":0.024},
{"x":327,"CKM":1e-5},{"x":335,"CKM":2e-5},{"x":323,"CKM":3.2e-5},{"x":331,"CKM":5e-5},{"x":337,"CKM":1e-4},{"x":325,"CKM":2e-4},{"x":333,"CKM":2.8e-4},{"x":328,"CKM":5.6e-4},{"x":336,"CKM":1.12e-3},{"x":324,"CKM":1.6e-3},{"x":330,"CKM":3.2e-3},{"x":338,"CKM":6.3e-3},{"x":326,"CKM":0.01},{"x":332,"CKM":0.018},
{"x":352,"CKM":1.3e-5},{"x":360,"CKM":2.7e-5},{"x":348,"CKM":3.7e-5},{"x":356,"CKM":7.5e-5},{"x":362,"CKM":1.5e-4},{"x":350,"CKM":2.4e-4},{"x":358,"CKM":4.2e-4},{"x":354,"CKM":6.6e-4},{"x":361,"CKM":1.3e-3},{"x":349,"CKM":2.7e-3},{"x":357,"CKM":4.2e-3},{"x":353,"CKM":7.5e-3},{"x":359,"CKM":0.013},{"x":355,"CKM":0.021},
{"x":377,"CKM":1.12e-5},{"x":385,"CKM":1.8e-5},{"x":373,"CKM":3.6e-5},{"x":381,"CKM":5.6e-5},{"x":387,"CKM":9e-5},{"x":375,"CKM":1.8e-4},{"x":383,"CKM":3.2e-4},{"x":379,"CKM":6.3e-4},{"x":386,"CKM":1e-3},{"x":374,"CKM":2e-3},{"x":380,"CKM":2.8e-3},{"x":388,"CKM":5.6e-3},{"x":376,"CKM":0.0112},{"x":384,"CKM":0.016},
{"x":402,"CKM":1.3e-5},{"x":410,"CKM":2.4e-5},{"x":398,"CKM":4.2e-5},{"x":406,"CKM":8.4e-5},{"x":412,"CKM":1.3e-4},{"x":400,"CKM":2.1e-4},{"x":408,"CKM":4.7e-4},{"x":404,"CKM":7.5e-4},{"x":411,"CKM":1.15e-3},{"x":399,"CKM":2.4e-3},{"x":405,"CKM":4.2e-3},{"x":409,"CKM":8.4e-3},{"x":403,"CKM":0.013},
{"x":427,"CKM":1.2e-5},{"x":435,"CKM":2e-5},{"x":423,"CKM":3.2e-5},{"x":431,"CKM":5e-5},{"x":437,"CKM":1e-4},{"x":425,"CKM":1.6e-4},{"x":433,"CKM":3.6e-4},{"x":429,"CKM":5.6e-4},{"x":436,"CKM":1e-3},{"x":424,"CKM":1.8e-3},{"x":430,"CKM":3.2e-3},{"x":438,"CKM":6.3e-3},{"x":426,"CKM":0.0112},
{"x":452,"CKM":1.3e-5},{"x":460,"CKM":2.1e-5},{"x":448,"CKM":4.7e-5},{"x":456,"CKM":7.5e-5},{"x":462,"CKM":1.5e-4},{"x":450,"CKM":2.4e-4},{"x":458,"CKM":3.7e-4},{"x":454,"CKM":7.5e-4},{"x":461,"CKM":1.3e-3},{"x":449,"CKM":2.7e-3},{"x":457,"CKM":4.2e-3},{"x":453,"CKM":6.6e-3},{"x":459,"CKM":0.013},
{"x":477,"CKM":1.8e-5},{"x":485,"CKM":3.2e-5},{"x":473,"CKM":6.3e-5},{"x":481,"CKM":1e-4},{"x":487,"CKM":2e-4},{"x":475,"CKM":3.2e-4},{"x":483,"CKM":5.6e-4},{"x":479,"CKM":9e-4},{"x":486,"CKM":1.8e-3},{"x":474,"CKM":3.6e-3},{"x":480,"CKM":5.6e-3},{"x":488,"CKM":0.01},
{"x":502,"CKM":1.3e-5},{"x":510,"CKM":2.4e-5},{"x":498,"CKM":4.2e-5},{"x":506,"CKM":7.5e-5},{"x":512,"CKM":1.15e-4},{"x":500,"CKM":2.4e-4},{"x":508,"CKM":4.7e-4},{"x":504,"CKM":7.5e-4},{"x":511,"CKM":1.3e-3},{"x":499,"CKM":2.1e-3},{"x":507,"CKM":4.2e-3},{"x":503,"CKM":7.5e-3},{"x":509,"CKM":0.015},
{"x":527,"CKM":1.8e-5},{"x":535,"CKM":2.8e-5},{"x":523,"CKM":5.6e-5},{"x":531,"CKM":1.12e-4},{"x":537,"CKM":1.8e-4},{"x":525,"CKM":3.2e-4},{"x":533,"CKM":5e-4},{"x":529,"CKM":1e-3},{"x":536,"CKM":2e-3},{"x":524,"CKM":3.2e-3},{"x":530,"CKM":5.6e-3},{"x":534,"CKM":0.01},
{"x":552,"CKM":1.3e-5},{"x":560,"CKM":2.4e-5},{"x":548,"CKM":4.2e-5},{"x":556,"CKM":6.6e-5},{"x":562,"CKM":1.3e-4},{"x":550,"CKM":2.7e-4},{"x":558,"CKM":4.2e-4},{"x":554,"CKM":8.4e-4},{"x":561,"CKM":1.3e-3},{"x":549,"CKM":2.4e-3},{"x":557,"CKM":3.7e-3},{"x":553,"CKM":7.5e-3},
{"x":577,"CKM":1.6e-5},{"x":585,"CKM":3.2e-5},{"x":573,"CKM":5.6e-5},{"x":581,"CKM":1e-4},{"x":587,"CKM":1.8e-4},{"x":575,"CKM":2.8e-4},{"x":583,"CKM":5.6e-4},{"x":579,"CKM":1.12e-3},{"x":586,"CKM":1.8e-3},{"x":574,"CKM":3.2e-3},{"x":580,"CKM":6.3e-3},{"x":584,"CKM":0.01},
{"x":602,"CKM":1.3e-5},{"x":610,"CKM":2.4e-5},{"x":598,"CKM":4.7e-5},{"x":606,"CKM":7.5e-5},{"x":612,"CKM":1.3e-4},{"x":600,"CKM":2.1e-4},{"x":608,"CKM":4.2e-4},{"x":604,"CKM":7.5e-4},{"x":611,"CKM":1.5e-3},{"x":599,"CKM":2.4e-3},{"x":605,"CKM":4.2e-3},{"x":609,"CKM":6.6e-3},
{"x":627,"CKM":1.8e-5},{"x":635,"CKM":3.2e-5},{"x":623,"CKM":5e-5},{"x":631,"CKM":1e-4},{"x":637,"CKM":2e-4},{"x":625,"CKM":3.2e-4},{"x":633,"CKM":5.6e-4},{"x":629,"CKM":1e-3},{"x":636,"CKM":1.8e-3},{"x":624,"CKM":3.6e-3},{"x":630,"CKM":5.6e-3},
{"x":652,"CKM":1.3e-5},{"x":660,"CKM":2.7e-5},{"x":648,"CKM":4.2e-5},{"x":656,"CKM":7.5e-5},{"x":662,"CKM":1.3e-4},{"x":650,"CKM":2.4e-4},{"x":658,"CKM":3.7e-4},{"x":654,"CKM":7.5e-4},{"x":661,"CKM":1.3e-3},{"x":649,"CKM":2.4e-3},{"x":657,"CKM":4.2e-3},{"x":653,"CKM":7.5e-3},
{"x":677,"CKM":1.8e-5},{"x":685,"CKM":3.2e-5},{"x":673,"CKM":5.6e-5},{"x":681,"CKM":1.12e-4},{"x":687,"CKM":1.8e-4},{"x":675,"CKM":3.2e-4},{"x":683,"CKM":6.3e-4},{"x":679,"CKM":1e-3},{"x":686,"CKM":1.6e-3},{"x":674,"CKM":3.2e-3},{"x":680,"CKM":5.6e-3},
{"x":702,"CKM":1.5e-5},{"x":710,"CKM":2.4e-5},{"x":698,"CKM":4.2e-5},{"x":706,"CKM":7.5e-5},{"x":712,"CKM":1.3e-4},{"x":700,"CKM":2.4e-4},{"x":708,"CKM":4.2e-4},{"x":704,"CKM":7.5e-4},{"x":711,"CKM":1.3e-3},{"x":699,"CKM":2.4e-3},{"x":705,"CKM":4.2e-3},
{"x":727,"CKM":1.8e-5},{"x":735,"CKM":3.2e-5},{"x":723,"CKM":5.6e-5},{"x":731,"CKM":1e-4},{"x":737,"CKM":1.8e-4},{"x":725,"CKM":3.2e-4},{"x":733,"CKM":5.6e-4},{"x":729,"CKM":1e-3},{"x":736,"CKM":1.8e-3},{"x":724,"CKM":3.2e-3},{"x":730,"CKM":5.6e-3},
{"x":752,"CKM":2.1e-5},{"x":760,"CKM":4.7e-5},{"x":748,"CKM":7.5e-5},{"x":756,"CKM":1.15e-4},{"x":762,"CKM":2.4e-4},{"x":750,"CKM":3.7e-4},{"x":758,"CKM":8.4e-4},{"x":754,"CKM":1.3e-3},{"x":761,"CKM":2.7e-3},{"x":749,"CKM":4.2e-3},
{"x":777,"CKM":2e-5},{"x":785,"CKM":3.2e-5},{"x":773,"CKM":5e-5},{"x":781,"CKM":1e-4},{"x":787,"CKM":1.6e-4},{"x":775,"CKM":3.6e-4},{"x":783,"CKM":5.6e-4},{"x":779,"CKM":1.12e-3},{"x":786,"CKM":1.8e-3},{"x":774,"CKM":2.8e-3},
{"x":802,"CKM":2.4e-5},{"x":810,"CKM":4.2e-5},{"x":798,"CKM":6.6e-5},{"x":806,"CKM":1.5e-4},{"x":812,"CKM":2.4e-4},{"x":800,"CKM":4.7e-4},{"x":808,"CKM":7.5e-4},{"x":804,"CKM":1.15e-3},{"x":811,"CKM":2.4e-3},{"x":799,"CKM":3.7e-3},
{"x":827,"CKM":1.8e-5},{"x":835,"CKM":2.8e-5},{"x":823,"CKM":5.6e-5},{"x":831,"CKM":1.12e-4},{"x":837,"CKM":1.8e-4},{"x":825,"CKM":3.2e-4},{"x":833,"CKM":6.3e-4},{"x":829,"CKM":1e-3},{"x":836,"CKM":2e-3},{"x":824,"CKM":3.2e-3},
{"x":852,"CKM":2.7e-5},{"x":860,"CKM":4.2e-5},{"x":848,"CKM":7.5e-5},{"x":856,"CKM":1.3e-4},{"x":862,"CKM":2.1e-4},{"x":850,"CKM":4.2e-4},{"x":858,"CKM":8.4e-4},{"x":854,"CKM":1.3e-3},{"x":861,"CKM":2.4e-3},
{"x":877,"CKM":1.6e-5},{"x":885,"CKM":3.2e-5},{"x":873,"CKM":6.3e-5},{"x":881,"CKM":1e-4},{"x":887,"CKM":2e-4},{"x":875,"CKM":2.8e-4},{"x":883,"CKM":5.6e-4},{"x":879,"CKM":1.12e-3},{"x":886,"CKM":1.8e-3},{"x":874,"CKM":3.2e-3},
{"x":902,"CKM":2.4e-5},{"x":910,"CKM":4.7e-5},{"x":898,"CKM":7.5e-5},{"x":906,"CKM":1.3e-4},{"x":912,"CKM":2.7e-4},{"x":900,"CKM":4.2e-4},{"x":908,"CKM":6.6e-4},{"x":904,"CKM":1.5e-3},{"x":911,"CKM":2.4e-3},
{"x":927,"CKM":1.8e-5},{"x":935,"CKM":3.6e-5},{"x":923,"CKM":5.6e-5},{"x":931,"CKM":9e-5},{"x":937,"CKM":1.8e-4},{"x":925,"CKM":3.2e-4},{"x":933,"CKM":5e-4},{"x":929,"CKM":1e-3},{"x":936,"CKM":1.8e-3},
{"x":952,"CKM":2.1e-5},{"x":960,"CKM":4.2e-5},{"x":948,"CKM":8.4e-5},{"x":956,"CKM":1.3e-4},{"x":962,"CKM":2.4e-4},{"x":950,"CKM":3.7e-4},{"x":958,"CKM":7.5e-4},{"x":954,"CKM":1.3e-3},{"x":961,"CKM":2.7e-3},
{"x":977,"CKM":2e-5},{"x":985,"CKM":3.2e-5},{"x":973,"CKM":5.6e-5},{"x":981,"CKM":1.12e-4},{"x":987,"CKM":1.6e-4},{"x":975,"CKM":3.2e-4},{"x":983,"CKM":6.3e-4},{"x":979,"CKM":1e-3},{"x":986,"CKM":2e-3},
{"x":1002,"CKM":2.4e-5},{"x":1010,"CKM":3.7e-5},{"x":998,"CKM":7.5e-5},{"x":1006,"CKM":1.5e-4},{"x":1012,"CKM":2.4e-4},{"x":1000,"CKM":4.7e-4},{"x":1008,"CKM":7.5e-4},{"x":1004,"CKM":1.15e-3},{"x":1011,"CKM":2.4e-3},
{"x":1027,"CKM":1.8e-5},{"x":1035,"CKM":3.2e-5},{"x":1023,"CKM":6.3e-5},{"x":1031,"CKM":1e-4},{"x":1037,"CKM":1.8e-4},{"x":1025,"CKM":3.6e-4},{"x":1033,"CKM":5.6e-4},{"x":1029,"CKM":9e-4},{"x":1036,"CKM":1.8e-3},
{"x":1052,"CKM":2.4e-5},{"x":1060,"CKM":4.2e-5},{"x":1048,"CKM":6.6e-5},{"x":1056,"CKM":1.3e-4},{"x":1062,"CKM":2.7e-4},{"x":1050,"CKM":4.2e-4},{"x":1058,"CKM":7.5e-4},{"x":1054,"CKM":1.3e-3},
{"x":1077,"CKM":1.8e-5},{"x":1085,"CKM":2.8e-5},{"x":1073,"CKM":5.6e-5},{"x":1081,"CKM":1.12e-4},{"x":1087,"CKM":2e-4},{"x":1075,"CKM":3.2e-4},{"x":1083,"CKM":5e-4},{"x":1079,"CKM":1e-3},{"x":1086,"CKM":1.6e-3},
{"x":1102,"CKM":2.1e-5},{"x":1110,"CKM":4.7e-5},{"x":1098,"CKM":7.5e-5},{"x":1106,"CKM":1.3e-4},{"x":1112,"CKM":2.4e-4},{"x":1100,"CKM":3.7e-4},{"x":1108,"CKM":8.4e-4},{"x":1104,"CKM":1.3e-3},
{"x":1127,"CKM":2e-5},{"x":1135,"CKM":3.2e-5},{"x":1123,"CKM":5.6e-5},{"x":1131,"CKM":9e-5},{"x":1137,"CKM":1.8e-4},{"x":1125,"CKM":3.2e-4},{"x":1133,"CKM":6.3e-4},{"x":1129,"CKM":1.12e-3},{"x":1136,"CKM":1.8e-3},
{"x":1152,"CKM":1.3e-5},{"x":1160,"CKM":2.4e-5},{"x":1148,"CKM":4.2e-5},{"x":1156,"CKM":7.5e-5},{"x":1162,"CKM":1.5e-4},{"x":1150,"CKM":2.4e-4},{"x":1158,"CKM":4.2e-4},{"x":1154,"CKM":6.6e-4},{"x":1161,"CKM":1.3e-3},
{"x":1177,"CKM":1.8e-5},{"x":1185,"CKM":3.6e-5},{"x":1173,"CKM":5.6e-5},{"x":1181,"CKM":1e-4},{"x":1187,"CKM":1.6e-4},{"x":1175,"CKM":3.2e-4},{"x":1183,"CKM":5.6e-4},{"x":1179,"CKM":1e-3},
{"x":1202,"CKM":1.3e-5},{"x":1210,"CKM":2.7e-5},{"x":1198,"CKM":4.2e-5},{"x":1206,"CKM":7.5e-5},{"x":1212,"CKM":1.3e-4},{"x":1200,"CKM":2.1e-4},{"x":1208,"CKM":4.7e-4},{"x":1204,"CKM":7.5e-4},{"x":1211,"CKM":1.15e-3},
{"x":1227,"CKM":1e-5},{"x":1235,"CKM":1.8e-5},{"x":1223,"CKM":3.2e-5},{"x":1231,"CKM":6.3e-5},{"x":1237,"CKM":1e-4},{"x":1225,"CKM":2e-4},{"x":1233,"CKM":3.2e-4},{"x":1229,"CKM":5e-4},{"x":1236,"CKM":1e-3},
{"x":1252,"CKM":1.15e-5},{"x":1260,"CKM":2.4e-5},{"x":1248,"CKM":4.2e-5},{"x":1256,"CKM":7.5e-5},{"x":1262,"CKM":1.3e-4},{"x":1250,"CKM":2.4e-4},{"x":1258,"CKM":4.2e-4},{"x":1254,"CKM":7.5e-4},
{"x":1277,"CKM":1e-5},{"x":1285,"CKM":1.8e-5},{"x":1273,"CKM":2.8e-5},{"x":1281,"CKM":5.6e-5},{"x":1287,"CKM":1.12e-4},{"x":1275,"CKM":1.8e-4},{"x":1283,"CKM":3.6e-4},{"x":1279,"CKM":5.6e-4},{"x":1286,"CKM":9e-4},
{"x":1302,"CKM":1.3e-5},{"x":1310,"CKM":2.1e-5},{"x":1298,"CKM":4.2e-5},{"x":1306,"CKM":8.4e-5},{"x":1312,"CKM":1.3e-4},{"x":1300,"CKM":2.4e-4},{"x":1308,"CKM":4.2e-4},{"x":1304,"CKM":6.6e-4},
{"x":1327,"CKM":9e-6},{"x":1335,"CKM":1.8e-5},{"x":1323,"CKM":3.2e-5},{"x":1331,"CKM":5.6e-5},{"x":1337,"CKM":1e-4},{"x":1325,"CKM":1.8e-4},{"x":1333,"CKM":3.2e-4},{"x":1329,"CKM":5.6e-4},
{"x":1352,"CKM":1.3e-5},{"x":1360,"CKM":2.4e-5},{"x":1348,"CKM":4.7e-5},{"x":1356,"CKM":7.5e-5},{"x":1362,"CKM":1.3e-4},{"x":1350,"CKM":2.4e-4},{"x":1358,"CKM":3.7e-4},{"x":1354,"CKM":7.5e-4},
{"x":1377,"CKM":1e-5},{"x":1385,"CKM":1.6e-5},{"x":1373,"CKM":3.2e-5},{"x":1381,"CKM":6.3e-5},{"x":1387,"CKM":1e-4},{"x":1375,"CKM":2e-4},{"x":1383,"CKM":3.2e-4},{"x":1379,"CKM":5.6e-4},
{"x":1402,"CKM":1.15e-5},{"x":1410,"CKM":2.4e-5},{"x":1398,"CKM":4.2e-5},{"x":1406,"CKM":7.5e-5},{"x":1412,"CKM":1.5e-4},{"x":1400,"CKM":2.4e-4},{"x":1408,"CKM":4.2e-4},{"x":1404,"CKM":6.6e-4},
{"x":1427,"CKM":9e-6},{"x":1435,"CKM":1.8e-5},{"x":1423,"CKM":3.2e-5},{"x":1431,"CKM":5e-5},{"x":1437,"CKM":1e-4},{"x":1425,"CKM":1.8e-4},{"x":1433,"CKM":3.6e-4},{"x":1429,"CKM":5.6e-4},
{"x":1452,"CKM":2.4e-5},{"x":1460,"CKM":4.2e-5},{"x":1448,"CKM":7.5e-5},{"x":1456,"CKM":1.3e-4},{"x":1462,"CKM":2.4e-4},{"x":1450,"CKM":4.2e-4},
{"x":1477,"CKM":3.2e-5},{"x":1485,"CKM":5.6e-5},{"x":1473,"CKM":1e-4},{"x":1481,"CKM":1.8e-4},{"x":1487,"CKM":3.2e-4},
{"x":1494,"CKM":4.2e-5},{"x":1499,"CKM":7.5e-5},{"x":1490,"CKM":1.3e-4},{"x":1496,"CKM":2.4e-4},
{"x":170,"CKM":0.045},{"x":185,"CKM":0.06},{"x":200,"CKM":0.05},{"x":212,"CKM":0.15},{"x":228,"CKM":0.22},{"x":249,"CKM":0.32},{"x":240,"CKM":0.12},{"x":260,"CKM":0.09},{"x":268,"CKM":0.16},{"x":280,"CKM":0.07},{"x":290,"CKM":0.12},{"x":303,"CKM":0.13},{"x":320,"CKM":0.05},{"x":340,"CKM":0.08},{"x":360,"CKM":0.16},{"x":375,"CKM":0.1},{"x":382,"CKM":0.12},{"x":400,"CKM":0.06},{"x":421,"CKM":0.1},{"x":445,"CKM":0.07},{"x":460,"CKM":0.04},{"x":480,"CKM":0.047},{"x":500,"CKM":0.035},{"x":519,"CKM":0.03},{"x":540,"CKM":0.025},{"x":555,"CKM":0.024},{"x":575,"CKM":0.02},{"x":594,"CKM":0.024},{"x":620,"CKM":0.018},{"x":650,"CKM":0.016},{"x":670,"CKM":0.012},{"x":695,"CKM":0.014},{"x":720,"CKM":0.011},{"x":745,"CKM":0.009},{"x":770,"CKM":0.0115},{"x":800,"CKM":0.008},{"x":830,"CKM":0.007},{"x":859,"CKM":0.009},{"x":880,"CKM":0.006},{"x":898,"CKM":0.0056},{"x":930,"CKM":0.0045},{"x":960,"CKM":0.0042},{"x":993,"CKM":0.0045},{"x":1030,"CKM":0.004},{"x":1060,"CKM":0.0035},{"x":1100,"CKM":0.0033},{"x":1130,"CKM":0.0028},{"x":1160,"CKM":0.0024},{"x":1200,"CKM":0.0018},{"x":1230,"CKM":0.0016},{"x":1270,"CKM":0.0015},{"x":1318,"CKM":0.0016},{"x":1360,"CKM":0.0011},{"x":1400,"CKM":0.0012},{"x":1424,"CKM":0.001},{"x":1460,"CKM":0.0008},{"x":1498,"CKM":0.00063},{"x":1492,"CKM":0.0003},
{"x":128,"CKM":9e-6},{"x":168,"CKM":7.4e-6},{"x":210,"CKM":8.5e-6},{"x":260,"CKM":9e-6},{"x":330,"CKM":9.5e-6},{"x":420,"CKM":1.05e-5},{"x":470,"CKM":1.15e-5},{"x":530,"CKM":1.2e-5},{"x":580,"CKM":1.25e-5},{"x":640,"CKM":1.3e-5},{"x":690,"CKM":1.35e-5},{"x":760,"CKM":1.4e-5},{"x":840,"CKM":1.5e-5},{"x":920,"CKM":1.55e-5},{"x":1010,"CKM":1.6e-5},{"x":1090,"CKM":1.6e-5},{"x":1190,"CKM":1.2e-5},{"x":1260,"CKM":9e-6},{"x":1310,"CKM":7.5e-6},{"x":1350,"CKM":8e-6},{"x":1390,"CKM":7.5e-6},{"x":1418,"CKM":7.5e-6},{"x":1440,"CKM":1.2e-5},
{"x":128,"CKM":1.3e-5},{"x":136,"CKM":2.4e-5},{"x":124,"CKM":4.2e-5},{"x":133,"CKM":7.5e-5},{"x":127,"CKM":1.3e-4},{"x":138,"CKM":2.4e-4},{"x":130,"CKM":4.2e-4},{"x":125,"CKM":7.5e-4},
{"x":155,"CKM":1e-5},{"x":149,"CKM":1.8e-5},{"x":162,"CKM":3.2e-5},{"x":152,"CKM":5.6e-5},{"x":158,"CKM":1e-4},{"x":150,"CKM":1.8e-4},{"x":161,"CKM":3.2e-4},{"x":154,"CKM":5.6e-4},{"x":148,"CKM":1e-3},
{"x":181,"CKM":1.4e-5},{"x":175,"CKM":2.5e-5},{"x":187,"CKM":4.4e-5},{"x":179,"CKM":7.2e-5},{"x":184,"CKM":1.25e-4},{"x":173,"CKM":2.5e-4},{"x":186,"CKM":4.4e-4},{"x":178,"CKM":7.2e-4},
{"x":206,"CKM":1e-5},{"x":199,"CKM":1.7e-5},{"x":212,"CKM":3.4e-5},{"x":202,"CKM":5.3e-5},{"x":209,"CKM":1.1e-4},{"x":197,"CKM":1.7e-4},{"x":211,"CKM":3.4e-4},{"x":204,"CKM":5.3e-4},{"x":200,"CKM":1.1e-3},
{"x":232,"CKM":1.3e-5},{"x":225,"CKM":2.4e-5},{"x":237,"CKM":4.2e-5},{"x":229,"CKM":7.5e-5},{"x":222,"CKM":1.3e-4},{"x":235,"CKM":2.4e-4},{"x":227,"CKM":4.2e-4},{"x":233,"CKM":7.5e-4},
{"x":255,"CKM":1.1e-5},{"x":249,"CKM":1.8e-5},{"x":262,"CKM":3.2e-5},{"x":252,"CKM":5.6e-5},{"x":259,"CKM":1e-4},{"x":247,"CKM":1.8e-4},{"x":261,"CKM":3.2e-4},{"x":254,"CKM":5.6e-4},{"x":250,"CKM":1e-3},
{"x":282,"CKM":1.4e-5},{"x":275,"CKM":2.5e-5},{"x":287,"CKM":4.4e-5},{"x":279,"CKM":7.2e-5},{"x":273,"CKM":1.25e-4},{"x":285,"CKM":2.5e-4},{"x":277,"CKM":4.4e-4},{"x":283,"CKM":7.2e-4},
{"x":306,"CKM":1e-5},{"x":299,"CKM":1.7e-5},{"x":312,"CKM":3.4e-5},{"x":302,"CKM":5.3e-5},{"x":309,"CKM":1.1e-4},{"x":297,"CKM":1.7e-4},{"x":311,"CKM":3.4e-4},{"x":304,"CKM":5.3e-4},{"x":300,"CKM":1.1e-3},
{"x":332,"CKM":1.3e-5},{"x":325,"CKM":2.4e-5},{"x":337,"CKM":4.2e-5},{"x":329,"CKM":7.5e-5},{"x":323,"CKM":1.3e-4},{"x":335,"CKM":2.4e-4},{"x":327,"CKM":4.2e-4},{"x":333,"CKM":7.5e-4},
{"x":356,"CKM":1.1e-5},{"x":349,"CKM":1.8e-5},{"x":362,"CKM":3.2e-5},{"x":352,"CKM":5.6e-5},{"x":359,"CKM":1e-4},{"x":347,"CKM":1.8e-4},{"x":361,"CKM":3.2e-4},{"x":354,"CKM":5.6e-4},{"x":350,"CKM":1e-3},
{"x":382,"CKM":1.4e-5},{"x":375,"CKM":2.5e-5},{"x":387,"CKM":4.4e-5},{"x":379,"CKM":7.2e-5},{"x":373,"CKM":1.25e-4},{"x":385,"CKM":2.5e-4},{"x":377,"CKM":4.4e-4},{"x":383,"CKM":7.2e-4},
{"x":406,"CKM":1.1e-5},{"x":399,"CKM":1.7e-5},{"x":412,"CKM":3.4e-5},{"x":402,"CKM":5.3e-5},{"x":409,"CKM":1.1e-4},{"x":397,"CKM":1.7e-4},{"x":411,"CKM":3.4e-4},{"x":404,"CKM":5.3e-4},{"x":400,"CKM":1.1e-3},
{"x":432,"CKM":1.3e-5},{"x":425,"CKM":2.4e-5},{"x":437,"CKM":4.2e-5},{"x":429,"CKM":7.5e-5},{"x":423,"CKM":1.3e-4},{"x":435,"CKM":2.4e-4},{"x":427,"CKM":4.2e-4},{"x":433,"CKM":7.5e-4},
{"x":456,"CKM":1.8e-5},{"x":449,"CKM":3.2e-5},{"x":462,"CKM":5.6e-5},{"x":452,"CKM":1e-4},{"x":459,"CKM":1.8e-4},{"x":447,"CKM":3.2e-4},{"x":461,"CKM":5.6e-4},{"x":454,"CKM":1e-3},
{"x":482,"CKM":1.3e-5},{"x":475,"CKM":2.5e-5},{"x":487,"CKM":4.4e-5},{"x":479,"CKM":7.2e-5},{"x":473,"CKM":1.25e-4},{"x":485,"CKM":2.5e-4},{"x":477,"CKM":4.4e-4},{"x":483,"CKM":7.2e-4},
{"x":506,"CKM":1.7e-5},{"x":499,"CKM":3.4e-5},{"x":512,"CKM":5.3e-5},{"x":502,"CKM":1.1e-4},{"x":509,"CKM":1.7e-4},{"x":497,"CKM":3.4e-4},{"x":511,"CKM":5.3e-4},{"x":504,"CKM":1.1e-3},
{"x":532,"CKM":1.3e-5},{"x":525,"CKM":2.4e-5},{"x":537,"CKM":4.2e-5},{"x":529,"CKM":7.5e-5},{"x":523,"CKM":1.3e-4},{"x":535,"CKM":2.4e-4},{"x":527,"CKM":4.2e-4},{"x":533,"CKM":7.5e-4},
{"x":556,"CKM":1.8e-5},{"x":549,"CKM":3.2e-5},{"x":562,"CKM":5.6e-5},{"x":552,"CKM":1e-4},{"x":559,"CKM":1.8e-4},{"x":547,"CKM":3.2e-4},{"x":561,"CKM":5.6e-4},{"x":554,"CKM":1e-3},
{"x":582,"CKM":1.4e-5},{"x":575,"CKM":2.5e-5},{"x":587,"CKM":4.4e-5},{"x":579,"CKM":7.2e-5},{"x":573,"CKM":1.25e-4},{"x":585,"CKM":2.5e-4},{"x":577,"CKM":4.4e-4},{"x":583,"CKM":7.2e-4},
{"x":606,"CKM":1.7e-5},{"x":599,"CKM":3.4e-5},{"x":612,"CKM":5.3e-5},{"x":602,"CKM":1.1e-4},{"x":609,"CKM":1.7e-4},{"x":597,"CKM":3.4e-4},{"x":611,"CKM":5.3e-4},{"x":604,"CKM":1.1e-3},
{"x":632,"CKM":1.4e-5},{"x":625,"CKM":2.4e-5},{"x":637,"CKM":4.2e-5},{"x":629,"CKM":7.5e-5},{"x":623,"CKM":1.3e-4},{"x":635,"CKM":2.4e-4},{"x":627,"CKM":4.2e-4},{"x":633,"CKM":7.5e-4},
{"x":656,"CKM":1.8e-5},{"x":649,"CKM":3.2e-5},{"x":662,"CKM":5.6e-5},{"x":652,"CKM":1e-4},{"x":659,"CKM":1.8e-4},{"x":647,"CKM":3.2e-4},{"x":661,"CKM":5.6e-4},{"x":654,"CKM":1e-3},
{"x":682,"CKM":1.4e-5},{"x":675,"CKM":2.5e-5},{"x":687,"CKM":4.4e-5},{"x":679,"CKM":7.2e-5},{"x":673,"CKM":1.25e-4},{"x":685,"CKM":2.5e-4},{"x":677,"CKM":4.4e-4},{"x":683,"CKM":7.2e-4},
{"x":706,"CKM":1.7e-5},{"x":699,"CKM":3.4e-5},{"x":712,"CKM":5.3e-5},{"x":702,"CKM":1.1e-4},{"x":709,"CKM":1.7e-4},{"x":697,"CKM":3.4e-4},{"x":711,"CKM":5.3e-4},{"x":704,"CKM":1e-3},
{"x":732,"CKM":1.5e-5},{"x":725,"CKM":2.4e-5},{"x":737,"CKM":4.2e-5},{"x":729,"CKM":7.5e-5},{"x":723,"CKM":1.3e-4},{"x":735,"CKM":2.4e-4},{"x":727,"CKM":4.2e-4},
{"x":756,"CKM":1.8e-5},{"x":749,"CKM":3.2e-5},{"x":762,"CKM":5.6e-5},{"x":752,"CKM":1e-4},{"x":759,"CKM":1.8e-4},{"x":747,"CKM":3.2e-4},{"x":761,"CKM":5.6e-4},
{"x":782,"CKM":1.5e-5},{"x":775,"CKM":2.5e-5},{"x":787,"CKM":4.4e-5},{"x":779,"CKM":7.2e-5},{"x":773,"CKM":1.25e-4},{"x":785,"CKM":2.5e-4},{"x":777,"CKM":4.4e-4},
{"x":806,"CKM":1.7e-5},{"x":799,"CKM":3.4e-5},{"x":812,"CKM":5.3e-5},{"x":802,"CKM":1.1e-4},{"x":809,"CKM":1.7e-4},{"x":797,"CKM":3.4e-4},{"x":811,"CKM":5.3e-4},
{"x":832,"CKM":1.5e-5},{"x":825,"CKM":2.4e-5},{"x":837,"CKM":4.2e-5},{"x":829,"CKM":7.5e-5},{"x":823,"CKM":1.3e-4},{"x":835,"CKM":2.4e-4},{"x":827,"CKM":4.2e-4},
{"x":856,"CKM":1.8e-5},{"x":849,"CKM":3.2e-5},{"x":862,"CKM":5.6e-5},{"x":852,"CKM":1e-4},{"x":859,"CKM":1.8e-4},{"x":847,"CKM":3.2e-4},{"x":861,"CKM":5.6e-4},
{"x":882,"CKM":1.5e-5},{"x":875,"CKM":2.5e-5},{"x":887,"CKM":4.4e-5},{"x":879,"CKM":7.2e-5},{"x":873,"CKM":1.25e-4},{"x":885,"CKM":2.5e-4},{"x":877,"CKM":4.4e-4},
{"x":906,"CKM":1.7e-5},{"x":899,"CKM":3.4e-5},{"x":912,"CKM":5.3e-5},{"x":902,"CKM":1.1e-4},{"x":909,"CKM":1.7e-4},{"x":897,"CKM":3.4e-4},{"x":911,"CKM":5.3e-4},
{"x":932,"CKM":1.6e-5},{"x":925,"CKM":2.4e-5},{"x":937,"CKM":4.2e-5},{"x":929,"CKM":7.5e-5},{"x":923,"CKM":1.3e-4},{"x":935,"CKM":2.4e-4},{"x":927,"CKM":4.2e-4},
{"x":956,"CKM":1.8e-5},{"x":949,"CKM":3.2e-5},{"x":962,"CKM":5.6e-5},{"x":952,"CKM":1e-4},{"x":959,"CKM":1.8e-4},{"x":947,"CKM":3.2e-4},{"x":961,"CKM":5.6e-4},
{"x":982,"CKM":1.6e-5},{"x":975,"CKM":2.5e-5},{"x":987,"CKM":4.4e-5},{"x":979,"CKM":7.2e-5},{"x":973,"CKM":1.25e-4},{"x":985,"CKM":2.5e-4},{"x":977,"CKM":4.4e-4},
{"x":1006,"CKM":1.7e-5},{"x":999,"CKM":3.4e-5},{"x":1012,"CKM":5.3e-5},{"x":1002,"CKM":1.1e-4},{"x":1009,"CKM":1.7e-4},{"x":997,"CKM":3.4e-4},{"x":1011,"CKM":5.3e-4},
{"x":1032,"CKM":1.6e-5},{"x":1025,"CKM":2.4e-5},{"x":1037,"CKM":4.2e-5},{"x":1029,"CKM":7.5e-5},{"x":1023,"CKM":1.3e-4},{"x":1035,"CKM":2.4e-4},{"x":1027,"CKM":4.2e-4},
{"x":1056,"CKM":1.8e-5},{"x":1049,"CKM":3.2e-5},{"x":1062,"CKM":5.6e-5},{"x":1052,"CKM":1e-4},{"x":1059,"CKM":1.8e-4},{"x":1047,"CKM":3.2e-4},{"x":1061,"CKM":5.6e-4},
{"x":1082,"CKM":1.6e-5},{"x":1075,"CKM":2.5e-5},{"x":1087,"CKM":4.4e-5},{"x":1079,"CKM":7.2e-5},{"x":1073,"CKM":1.25e-4},{"x":1085,"CKM":2.5e-4},{"x":1077,"CKM":4.4e-4},
{"x":1106,"CKM":1.7e-5},{"x":1099,"CKM":3.4e-5},{"x":1112,"CKM":5.3e-5},{"x":1102,"CKM":1.1e-4},{"x":1109,"CKM":1.7e-4},{"x":1097,"CKM":3.4e-4},{"x":1111,"CKM":5.3e-4},
{"x":1132,"CKM":1.5e-5},{"x":1125,"CKM":2.4e-5},{"x":1137,"CKM":4.2e-5},{"x":1129,"CKM":7.5e-5},{"x":1123,"CKM":1.3e-4},{"x":1135,"CKM":2.4e-4},{"x":1127,"CKM":4.2e-4},
{"x":1156,"CKM":1.8e-5},{"x":1149,"CKM":3.2e-5},{"x":1162,"CKM":5.6e-5},{"x":1152,"CKM":1e-4},{"x":1159,"CKM":1.8e-4},{"x":1147,"CKM":3.2e-4},{"x":1161,"CKM":5.6e-4},
{"x":1182,"CKM":1.3e-5},{"x":1175,"CKM":2.5e-5},{"x":1187,"CKM":4.4e-5},{"x":1179,"CKM":7.2e-5},{"x":1173,"CKM":1.25e-4},{"x":1185,"CKM":2.5e-4},{"x":1177,"CKM":4.4e-4},
{"x":1206,"CKM":1.7e-5},{"x":1199,"CKM":3.4e-5},{"x":1212,"CKM":5.3e-5},{"x":1202,"CKM":1.1e-4},{"x":1209,"CKM":1.7e-4},{"x":1197,"CKM":3.4e-4},{"x":1211,"CKM":5.3e-4},
{"x":1232,"CKM":1.3e-5},{"x":1225,"CKM":2.4e-5},{"x":1237,"CKM":4.2e-5},{"x":1229,"CKM":7.5e-5},{"x":1223,"CKM":1.3e-4},{"x":1235,"CKM":2.4e-4},{"x":1227,"CKM":4.2e-4},
{"x":1256,"CKM":1e-5},{"x":1249,"CKM":1.8e-5},{"x":1262,"CKM":3.2e-5},{"x":1252,"CKM":5.6e-5},{"x":1259,"CKM":1e-4},{"x":1247,"CKM":1.8e-4},{"x":1261,"CKM":3.2e-4},{"x":1254,"CKM":5.6e-4},
{"x":1282,"CKM":1.4e-5},{"x":1275,"CKM":2.5e-5},{"x":1287,"CKM":4.4e-5},{"x":1279,"CKM":7.2e-5},{"x":1273,"CKM":1.25e-4},{"x":1285,"CKM":2.5e-4},{"x":1277,"CKM":4.4e-4},
{"x":1306,"CKM":1e-5},{"x":1299,"CKM":1.7e-5},{"x":1312,"CKM":3.4e-5},{"x":1302,"CKM":5.3e-5},{"x":1309,"CKM":1.1e-4},{"x":1297,"CKM":1.7e-4},{"x":1311,"CKM":3.4e-4},{"x":1304,"CKM":5.3e-4},
{"x":1332,"CKM":1.3e-5},{"x":1325,"CKM":2.4e-5},{"x":1337,"CKM":4.2e-5},{"x":1329,"CKM":7.5e-5},{"x":1323,"CKM":1.3e-4},{"x":1335,"CKM":2.4e-4},{"x":1327,"CKM":4.2e-4},
{"x":1356,"CKM":1e-5},{"x":1349,"CKM":1.8e-5},{"x":1362,"CKM":3.2e-5},{"x":1352,"CKM":5.6e-5},{"x":1359,"CKM":1e-4},{"x":1347,"CKM":1.8e-4},{"x":1361,"CKM":3.2e-4},{"x":1354,"CKM":5.6e-4},
{"x":1382,"CKM":1.3e-5},{"x":1375,"CKM":2.5e-5},{"x":1387,"CKM":4.4e-5},{"x":1379,"CKM":7.2e-5},{"x":1373,"CKM":1.25e-4},{"x":1385,"CKM":2.5e-4},{"x":1377,"CKM":4.4e-4},
{"x":1406,"CKM":1e-5},{"x":1399,"CKM":1.7e-5},{"x":1412,"CKM":3.4e-5},{"x":1402,"CKM":5.3e-5},{"x":1409,"CKM":1.1e-4},{"x":1397,"CKM":1.7e-4},{"x":1411,"CKM":3.4e-4},{"x":1404,"CKM":5.3e-4},
{"x":1432,"CKM":1.3e-5},{"x":1425,"CKM":2.4e-5},{"x":1437,"CKM":4.2e-5},{"x":1429,"CKM":7.5e-5},{"x":1423,"CKM":1.3e-4},{"x":1435,"CKM":2.4e-4},{"x":1427,"CKM":4.2e-4},
{"x":1456,"CKM":3.2e-5},{"x":1449,"CKM":5.6e-5},{"x":1462,"CKM":1e-4},{"x":1452,"CKM":1.8e-4},{"x":1459,"CKM":3.2e-4},
{"x":1482,"CKM":4.2e-5},{"x":1475,"CKM":7.5e-5},{"x":1487,"CKM":1.3e-4},{"x":1479,"CKM":2.4e-4},
{"x":1497,"CKM":5.6e-5},{"x":1493,"CKM":1e-4},{"x":1500,"CKM":1.8e-4},
{"x":128,"CKM":1.3e-3},{"x":136,"CKM":2.4e-3},{"x":124,"CKM":4.2e-3},{"x":133,"CKM":7.5e-3},
{"x":155,"CKM":1.8e-3},{"x":149,"CKM":3.2e-3},{"x":162,"CKM":5.6e-3},{"x":152,"CKM":1e-2},
{"x":181,"CKM":1.3e-3},{"x":175,"CKM":2.4e-3},{"x":187,"CKM":4.2e-3},{"x":179,"CKM":7.5e-3},
{"x":206,"CKM":1.8e-3},{"x":199,"CKM":3.2e-3},{"x":212,"CKM":5.6e-3},{"x":202,"CKM":1e-2},
{"x":232,"CKM":1.4e-3},{"x":225,"CKM":2.5e-3},{"x":237,"CKM":4.4e-3},{"x":229,"CKM":7.2e-3},{"x":222,"CKM":1.3e-2},
{"x":255,"CKM":1.7e-3},{"x":249,"CKM":3.4e-3},{"x":262,"CKM":5.3e-3},{"x":252,"CKM":1.1e-2},{"x":259,"CKM":1.8e-2},
{"x":282,"CKM":1.3e-3},{"x":275,"CKM":2.4e-3},{"x":287,"CKM":4.2e-3},{"x":279,"CKM":7.5e-3},{"x":273,"CKM":1.3e-2},
{"x":306,"CKM":1.8e-3},{"x":299,"CKM":3.2e-3},{"x":312,"CKM":5.6e-3},{"x":302,"CKM":1e-2},{"x":309,"CKM":1.8e-2},
{"x":332,"CKM":1.4e-3},{"x":325,"CKM":2.5e-3},{"x":337,"CKM":4.4e-3},{"x":329,"CKM":7.2e-3},{"x":323,"CKM":1.4e-2},
{"x":356,"CKM":1.7e-3},{"x":349,"CKM":3.4e-3},{"x":362,"CKM":5.3e-3},{"x":352,"CKM":1.1e-2},
{"x":382,"CKM":1.3e-3},{"x":375,"CKM":2.4e-3},{"x":387,"CKM":4.2e-3},{"x":379,"CKM":7.5e-3},{"x":373,"CKM":1.3e-2},
{"x":406,"CKM":1.8e-3},{"x":399,"CKM":3.2e-3},{"x":412,"CKM":5.6e-3},{"x":402,"CKM":1e-2},
{"x":432,"CKM":1.4e-3},{"x":425,"CKM":2.5e-3},{"x":437,"CKM":4.4e-3},{"x":429,"CKM":7.2e-3},
{"x":456,"CKM":1.7e-3},{"x":449,"CKM":3.4e-3},{"x":462,"CKM":5.3e-3},{"x":452,"CKM":1e-2},
{"x":482,"CKM":1.3e-3},{"x":475,"CKM":2.4e-3},{"x":487,"CKM":4.2e-3},{"x":479,"CKM":7.5e-3},
{"x":506,"CKM":1.8e-3},{"x":499,"CKM":3.2e-3},{"x":512,"CKM":5.6e-3},{"x":502,"CKM":1e-2},
{"x":532,"CKM":1.4e-3},{"x":525,"CKM":2.5e-3},{"x":537,"CKM":4.4e-3},{"x":529,"CKM":7.2e-3},
{"x":556,"CKM":1.7e-3},{"x":549,"CKM":3.4e-3},{"x":562,"CKM":5.3e-3},
{"x":582,"CKM":1.3e-3},{"x":575,"CKM":2.4e-3},{"x":587,"CKM":4.2e-3},{"x":579,"CKM":7.5e-3},
{"x":606,"CKM":1.8e-3},{"x":599,"CKM":3.2e-3},{"x":612,"CKM":5.6e-3},
{"x":632,"CKM":1.4e-3},{"x":625,"CKM":2.5e-3},{"x":637,"CKM":4.4e-3},
{"x":656,"CKM":1.7e-3},{"x":649,"CKM":3.4e-3},{"x":662,"CKM":5.3e-3},
{"x":682,"CKM":1.3e-3},{"x":675,"CKM":2.4e-3},{"x":687,"CKM":4.2e-3},
{"x":706,"CKM":1.8e-3},{"x":699,"CKM":3.2e-3},
{"x":732,"CKM":1.4e-3},{"x":725,"CKM":2.5e-3},{"x":737,"CKM":4.4e-3},
{"x":756,"CKM":1.7e-3},{"x":749,"CKM":3.4e-3},
{"x":782,"CKM":1.3e-3},{"x":775,"CKM":2.4e-3},{"x":787,"CKM":4.2e-3},
{"x":806,"CKM":1.8e-3},{"x":799,"CKM":3.2e-3},
{"x":832,"CKM":1.4e-3},{"x":825,"CKM":2.5e-3},
{"x":856,"CKM":1.7e-3},{"x":882,"CKM":1.3e-3},{"x":875,"CKM":2.4e-3},{"x":906,"CKM":1.8e-3}
],
"limits": [{"name":"Now","y":4.3},{"name":"PRIME","y":4e-6}],
"notes": [{"label":"Now","x":1577,"y":4.3},{"label":"PRIME","x":1595,"y":4e-6}]
},
"layer": [
{
"data": {"name": "ckm"},
"transform": [{"fold": ["CKM"], "as": ["series", "y"]}],
"mark": {"type": "point", "filled": false, "strokeWidth": 1.1, "size": 85, "opacity": 1},
"encoding": {
"x": {"field": "x", "type": "quantitative", "scale": {"domain": [0, 1600], "nice": false},
 "axis": {"values": [0,200,400,600,800,1000,1200,1400,1600], "format": "d", "title": "M₁/₂\u2002(GeV)", "titleFontSize": 25, "grid": true, "tickSize": -8, "labelPadding": 18, "titlePadding": 6}},
"y": {"field": "y", "type": "quantitative", "scale": {"type": "log", "domain": [1e-6, 10000], "nice": false},
 "axis": {"values": [1e-6,1e-5,1e-4,1e-3,1e-2,0.1,1,10,100,1000,10000], "title": "CR(μ → e) · 10¹² in Ti", "titleFontSize": 24, "grid": true, "tickSize": -8, "labelPadding": 18, "titlePadding": 12,
 "labelExpr": "datum.value < 0.0009 ? replace(format(datum.value, '.0e'), 'e-', 'e-0') : format(datum.value, '~g')"}},
"color": {"field": "series", "type": "nominal", "scale": {"domain": ["CKM", "PMNS"], "range": ["#ff2200", "#00e000"]},
 "legend": {"title": null, "orient": "none", "legendX": 702, "legendY": 11, "labelAlign": "right", "labelOffset": -84, "labelFont": "Liberation Serif", "labelFontSize": 17, "labelColor": "#222", "symbolSize": 64, "symbolStrokeWidth": 1, "rowPadding": 0}},
"shape": {"field": "series", "type": "nominal", "scale": {"domain": ["CKM", "PMNS"], "range": ["M-1,0L1,0M0,-1L0,1", "M-1,-1L1,1M-1,1L1,-1"]},
 "legend": {"title": null, "orient": "none", "legendX": 702, "legendY": 11, "labelAlign": "right", "labelOffset": -84, "labelFont": "Liberation Serif", "labelFontSize": 17, "labelColor": "#222", "symbolSize": 64, "symbolStrokeWidth": 1, "rowPadding": 0}}
}
},
{
"data": {"name": "pmns"},
"transform": [{"fold": ["PMNS"], "as": ["series", "y"]}],
"mark": {"type": "point", "filled": false, "strokeWidth": 1.1, "size": 68, "opacity": 1},
"encoding": {
"x": {"field": "x", "type": "quantitative", "axis": null},
"y": {"field": "y", "type": "quantitative", "axis": null},
"color": {"field": "series", "type": "nominal"},
"shape": {"field": "series", "type": "nominal"}
}
},
{
"data": {"name": "limits"},
"mark": {"type": "rule", "stroke": "#000", "strokeWidth": 3},
"encoding": {
"y": {"field": "y", "type": "quantitative", "axis": {"orient": "right", "values": [1e-6,1e-5,1e-4,1e-3,1e-2,0.1,1,10,100,1000,10000], "labels": false, "grid": false, "title": null, "tickSize": -8}}
}
},
{
"data": {"name": "notes"},
"mark": {"type": "text", "align": "right", "baseline": "bottom", "dy": -4, "font": "Liberation Sans", "fontSize": 17, "color": "#222"},
"encoding": {
"x": {"field": "x", "type": "quantitative", "axis": {"orient": "top", "values": [0,200,400,600,800,1000,1200,1400,1600], "labels": false, "grid": false, "title": null, "tickSize": -8}},
"y": {"field": "y", "type": "quantitative", "axis": null},
"text": {"field": "label"}
}
}
],
"resolve": {"axis": {"x": "independent", "y": "independent"}},
"config": {
"view": {"stroke": "#000", "strokeWidth": 1.5},
"axis": {"labelFont": "Liberation Sans", "labelFontSize": 16, "labelColor": "#222", "titleFont": "Liberation Serif", "titleFontWeight": "normal", "titleColor": "#222", "gridColor": "#999", "gridDash": [1, 3], "gridWidth": 1, "domain": false, "tickColor": "#000", "tickWidth": 1.2}
}
}
